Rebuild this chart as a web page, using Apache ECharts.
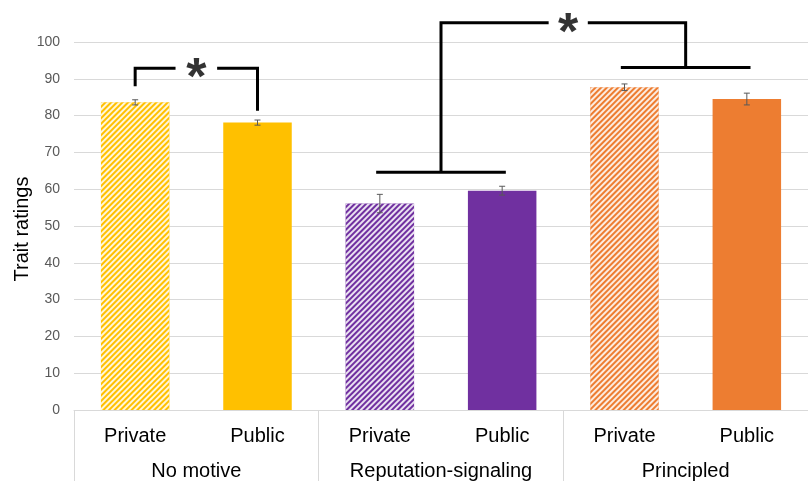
<!DOCTYPE html>
<html>
<head>
<meta charset="utf-8">
<script src="https://cdn.jsdelivr.net/npm/echarts@6/dist/echarts.min.js"></script>
<style>
html,body{margin:0;padding:0;background:#fff;}
#chart{width:808px;height:481px;}
</style>
</head>
<body>
<div id="chart"></div>
<script>
const groups = ['No motive', 'Reputation-signaling', 'Principled'];
const conditions = ['Private', 'Public', 'Private', 'Public', 'Private', 'Public'];
const ratings = [83.6, 78.1, 56.1, 59.6, 87.7, 84.5];
const errors = [0.7, 0.7, 2.5, 1.2, 0.9, 1.6];
const barColors = ['#FFC000', '#FFC000', '#7030A0', '#7030A0', '#ED7D31', '#ED7D31'];
const hatched = [true, false, true, false, true, false];
const yMin = 0, yMax = 100, yStep = 10;

// significance brackets (x in bar-slot units 0..6, y in rating units)
const brackets = [
  [[0.5, 88.0], [0.5, 92.9], [0.83, 92.9]],
  [[1.17, 92.9], [1.5, 92.9], [1.5, 81.3]],
  [[2.47, 64.6], [3.53, 64.6]],
  [[3.0, 64.6], [3.0, 105.2], [3.88, 105.2]],
  [[4.2, 105.2], [5.0, 105.2], [5.0, 93.1]],
  [[4.47, 93.1], [5.53, 93.1]]
];
const stars = [[1.0, 92.9], [4.04, 105.2]];

const FONT = 'Liberation Sans, Arial, sans-serif';
const chart = echarts.init(document.getElementById('chart'));

const barData = ratings.map((v, i) => ({
  value: v,
  itemStyle: hatched[i] ? {
    color: barColors[i],
    decal: {
      symbol: 'rect',
      symbolSize: 1,
      color: 'rgba(255,255,255,0.85)',
      dashArrayX: [1, 0],
      dashArrayY: [2, 2],
      rotation: -Math.PI / 4
    }
  } : { color: barColors[i] }
}));

const series = [
  {
    type: 'bar',
    xAxisIndex: 0,
    yAxisIndex: 0,
    barWidth: '56%',
    data: barData,
    z: 2
  },
  {
    type: 'custom',
    xAxisIndex: 0,
    yAxisIndex: 0,
    z: 5,
    data: ratings.map((v, i) => [i, v, errors[i]]),
    renderItem: function (params, api) {
      const x = api.value(0), v = api.value(1), e = api.value(2);
      const top = api.coord([x, v + e]);
      const bot = api.coord([x, v - e]);
      const hw = 3;
      const st = { stroke: '#595959', lineWidth: 1 };
      return {
        type: 'group',
        children: [
          { type: 'line', shape: { x1: top[0], y1: top[1], x2: bot[0], y2: bot[1] }, style: st },
          { type: 'line', shape: { x1: top[0] - hw, y1: top[1], x2: top[0] + hw, y2: top[1] }, style: st },
          { type: 'line', shape: { x1: bot[0] - hw, y1: bot[1], x2: bot[0] + hw, y2: bot[1] }, style: st }
        ]
      };
    }
  }
];

brackets.forEach(b => {
  series.push({
    type: 'line',
    xAxisIndex: 2,
    yAxisIndex: 0,
    data: b,
    symbol: 'none',
    clip: false,
    silent: true,
    z: 6,
    lineStyle: { color: '#000', width: 3, join: 'miter', cap: 'butt' }
  });
});

series.push({
  type: 'scatter',
  xAxisIndex: 2,
  yAxisIndex: 0,
  data: stars,
  symbol: 'circle',
  symbolSize: 1,
  clip: false,
  z: 7,
  itemStyle: { color: 'rgba(0,0,0,0)' },
  label: {
    show: true,
    position: 'inside',
    formatter: '*',
    fontSize: 52,
    fontWeight: 'bold',
    fontFamily: FONT,
    color: '#000',
    offset: [0, 12]
  }
});

chart.setOption({
  animation: false,
  backgroundColor: '#fff',
  grid: { left: 74, right: 0, top: 42, bottom: 71, containLabel: false, outerBoundsMode: 'none' },
  xAxis: [
    {
      type: 'category',
      data: conditions,
      position: 'bottom',
      axisLine: { show: true, lineStyle: { color: '#d9d9d9', width: 1 } },
      axisTick: { show: false },
      axisLabel: { interval: 0, margin: 16, fontSize: 20, color: '#000', fontFamily: FONT }
    },
    {
      type: 'category',
      data: groups,
      position: 'bottom',
      axisLine: { show: false },
      axisTick: { show: true, interval: 0, length: 71, lineStyle: { color: '#d9d9d9', width: 1 } },
      axisLabel: { interval: 0, margin: 51, fontSize: 20, color: '#000', fontFamily: FONT }
    },
    {
      type: 'value',
      min: 0,
      max: 6,
      position: 'top',
      show: false
    }
  ],
  yAxis: [{
    type: 'value',
    min: yMin,
    max: yMax,
    interval: yStep,
    name: 'Trait ratings',
    nameLocation: 'middle',
    nameGap: 42,
    nameMoveOverlap: false,
    nameTextStyle: { fontSize: 20, color: '#000', fontFamily: FONT, padding: [0, 6, 0, 0] },
    axisLine: { show: false },
    axisTick: { show: false },
    axisLabel: { fontSize: 14, color: '#595959', margin: 14, fontFamily: FONT },
    splitLine: { show: true, lineStyle: { color: '#d9d9d9', width: 1 } }
  }],
  series: series
});
</script>
</body>
</html>
